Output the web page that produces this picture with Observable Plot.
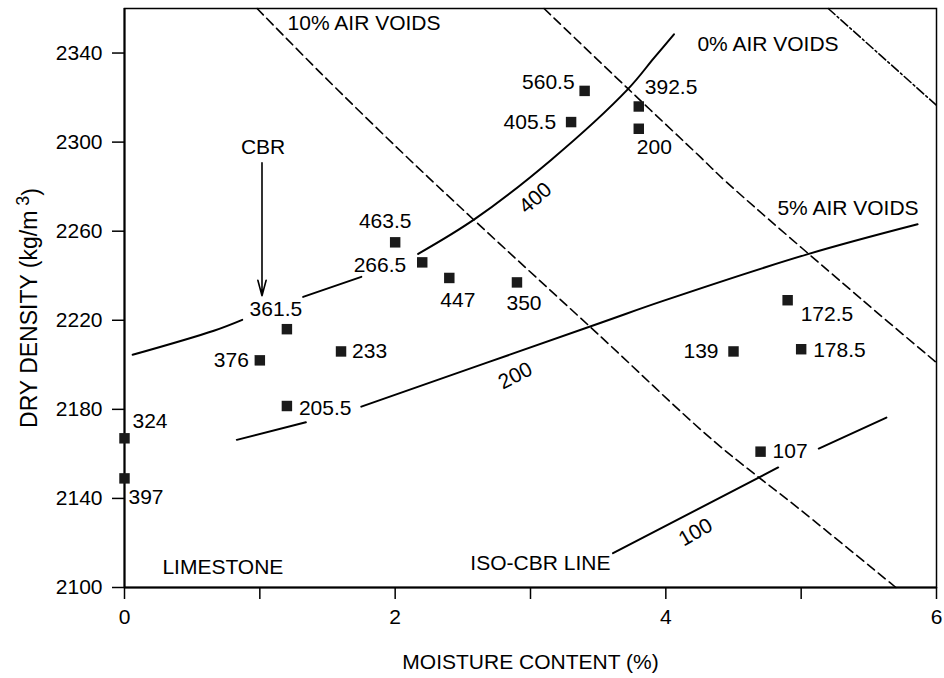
<!DOCTYPE html>
<html>
<head>
<meta charset="utf-8">
<script src="https://cdn.jsdelivr.net/npm/d3@7"></script>
<script src="https://cdn.jsdelivr.net/npm/@observablehq/plot@0.6"></script>
<style>
  body { margin: 0; background: #fff; }
  #chart { width: 944px; height: 678px; }
</style>
</head>
<body>
<div id="chart"></div>
<script>
// ---------------- data ----------------
const moisture = [3.4, 3.3, 3.8, 3.8, 2.0, 2.2, 2.4, 2.9, 1.2, 1.0, 1.6, 1.2, 0, 0, 4.9, 4.5, 5.0, 4.7];
const density  = [2323, 2309, 2316, 2306, 2255, 2246, 2239, 2237, 2216, 2202, 2206, 2181.5, 2167, 2149, 2229, 2206, 2207, 2161];
const cbrLabels = ["560.5", "405.5", "392.5", "200", "463.5", "266.5", "447", "350", "361.5", "376", "233", "205.5", "324", "397", "172.5", "139", "178.5", "107"];

const xTicks = [0, 1, 2, 3, 4, 5, 6];
const xTickLabels = ["0", "", "2", "", "4", "", "6"];
const yTicks = [2100, 2140, 2180, 2220, 2260, 2300, 2340];

// air-voids lines
const voids10Moisture = [0.98, 1.45, 2.04, 2.59, 3.52, 4.35, 5.00, 5.70];
const voids10Density  = [2360, 2331, 2296, 2264.6, 2212.6, 2166, 2134.6, 2100];
const voids5Moisture  = [3.10, 3.72, 4.26, 4.44, 5.46, 6.0];
const voids5Density   = [2360, 2324, 2293, 2282.5, 2228.7, 2201];
const voids0Moisture  = [5.20, 6.0];
const voids0Density   = [2360, 2316.5];

// iso-CBR lines (segments break where labels sit)
const cbr400Moisture = [0.06, 0.66, 0.87, 1.32, 1.75, 2.17, 2.59, 3.15, 3.72, 3.91, 4.06];
const cbr400Density  = [2204.5, 2215.3, 2220.2, 2230.5, 2239.5, 2249.8, 2265.5, 2291.9, 2323.8, 2337.6, 2348.4];
const cbr400Segment  = [1, 1, 1, 2, 2, 3, 3, 3, 3, 3, 3];
const cbr200Moisture = [0.83, 1.34, 1.75, 3.52, 3.98, 5.05, 5.86];
const cbr200Density  = [2166.3, 2174.2, 2181.2, 2218.9, 2228.7, 2249.7, 2263.1];
const cbr200Segment  = [1, 1, 2, 2, 2, 2, 2];
const cbr100Moisture = [3.61, 4.83, 5.13, 5.63];
const cbr100Density  = [2115.4, 2153.9, 2162.4, 2176.3];
const cbr100Segment  = [1, 1, 2, 2];

// annotations
const annotationText     = ["10% AIR VOIDS", "0% AIR VOIDS", "5% AIR VOIDS", "CBR", "LIMESTONE", "ISO-CBR LINE"];
const annotationMoisture = [1.77, 4.755, 5.346, 1.024, 0.727, 3.073];
const annotationDensity  = [2353.3, 2343.8, 2270.5, 2297.9, 2109.0, 2110.8];

const curveLabelText     = ["400", "200", "100"];
const curveLabelMoisture = [3.036, 2.888, 4.219];
const curveLabelDensity  = [2274.9, 2195.1, 2124.8];

const arrowMoisture = [1.016];
const arrowFrom = [2290.7];
const arrowTo = [2231.0];

// ---------------- styling (placement of point labels) ----------------
const labelPlacement = [
  {anchor: "end", dx: -10, dy: -9},     // 560.5
  {anchor: "end", dx: -15, dy: 0},      // 405.5
  {anchor: "start", dx: 6, dy: -19},    // 392.5
  {anchor: "start", dx: -2, dy: 19},    // 200
  {anchor: "middle", dx: -10, dy: -21}, // 463.5
  {anchor: "end", dx: -16, dy: 3},      // 266.5
  {anchor: "start", dx: -9, dy: 22},    // 447
  {anchor: "middle", dx: 7, dy: 21},    // 350
  {anchor: "middle", dx: -11, dy: -20}, // 361.5
  {anchor: "end", dx: -11, dy: 0},      // 376
  {anchor: "start", dx: 11, dy: 0},     // 233
  {anchor: "start", dx: 12, dy: 2},     // 205.5
  {anchor: "start", dx: 8, dy: -17},    // 324
  {anchor: "start", dx: 4, dy: 19},     // 397
  {anchor: "start", dx: 13, dy: 14},    // 172.5
  {anchor: "end", dx: -15, dy: 0},      // 139
  {anchor: "start", dx: 12, dy: 1},     // 178.5
  {anchor: "start", dx: 12, dy: 0}      // 107
];
const curveLabelAngle = [-41, -27, -30];

// ---------------- build tables ----------------
const points = moisture.map((m, i) => ({m, d: density[i], label: cbrLabels[i], i}));
const toRows = (xs, ys, segs) => xs.map((x, i) => ({x, y: ys[i], s: segs ? segs[i] : 0}));
const voids10 = toRows(voids10Moisture, voids10Density);
const voids5 = toRows(voids5Moisture, voids5Density);
const voids0 = toRows(voids0Moisture, voids0Density);
const cbr400 = toRows(cbr400Moisture, cbr400Density, cbr400Segment);
const cbr200 = toRows(cbr200Moisture, cbr200Density, cbr200Segment);
const cbr100 = toRows(cbr100Moisture, cbr100Density, cbr100Segment);
const annotations = annotationText.map((t, i) => ({t, x: annotationMoisture[i], y: annotationDensity[i]}));
const curveLabels = curveLabelText.map((t, i) => ({t, x: curveLabelMoisture[i], y: curveLabelDensity[i], r: curveLabelAngle[i]}));
const arrows = arrowMoisture.map((x, i) => ({x, y1: arrowFrom[i], y2: arrowTo[i]}));

const FS = 21;
const solid = {stroke: "black", strokeWidth: 2, curve: "catmull-rom"};

const plot = Plot.plot({
  width: 944,
  height: 678,
  marginLeft: 124,
  marginRight: 8,
  marginTop: 8,
  marginBottom: 91,
  style: {fontFamily: "'Liberation Sans', Arial, Helvetica, sans-serif", fontSize: FS + "px", color: "black", background: "white"},
  x: {domain: [0, 6]},
  y: {domain: [2100, 2360]},
  marks: [
    Plot.frame({stroke: "black", strokeWidth: 1.5}),
    Plot.ruleX([0], {stroke: "black", strokeWidth: 2}),
    Plot.ruleY([2100], {stroke: "black", strokeWidth: 2}),
    Plot.axisX({ticks: xTicks, tickFormat: d => xTickLabels[xTicks.indexOf(d)], tickSize: 12, tickPadding: 10, fontSize: FS, label: null, strokeWidth: 1.5}),
    Plot.axisY({ticks: yTicks, tickFormat: d => String(d), tickSize: 12, tickPadding: 10, fontSize: FS, label: null, strokeWidth: 1.5}),
    // air voids
    Plot.line(voids10, {x: "x", y: "y", stroke: "black", strokeWidth: 1.6, strokeDasharray: "9,5", curve: "catmull-rom"}),
    Plot.line(voids5, {x: "x", y: "y", stroke: "black", strokeWidth: 1.6, strokeDasharray: "9,5", curve: "catmull-rom"}),
    Plot.line(voids0, {x: "x", y: "y", stroke: "black", strokeWidth: 1.6, strokeDasharray: "9,3,2,3"}),
    // iso-CBR
    Plot.line(cbr400, {x: "x", y: "y", z: "s", ...solid}),
    Plot.line(cbr200, {x: "x", y: "y", z: "s", ...solid}),
    Plot.line(cbr100, {x: "x", y: "y", z: "s", ...solid}),
    // CBR arrow
    Plot.arrow(arrows, {x1: "x", x2: "x", y1: "y1", y2: "y2", stroke: "black", strokeWidth: 1.6, headLength: 15, headAngle: 30}),
    // points
    Plot.dot(points, {x: "m", y: "d", symbol: "square", r: 5.9, fill: "#1a1a1a", stroke: "none"}),
    // point labels
    ...points.map(p => Plot.text([p], {
      x: "m", y: "d", text: "label", fontSize: FS, fill: "black",
      textAnchor: labelPlacement[p.i].anchor, dx: labelPlacement[p.i].dx, dy: labelPlacement[p.i].dy
    })),
    // annotations
    Plot.text(annotations, {x: "x", y: "y", text: "t", fontSize: FS, fill: "black"}),
    Plot.text(curveLabels, {x: "x", y: "y", text: "t", rotate: "r", fontSize: FS, fill: "black"}),
    // axis titles
    Plot.text(["MOISTURE CONTENT (%)"], {frameAnchor: "bottom", textAnchor: "middle", lineAnchor: "middle", dy: 75, text: d => d, fontSize: FS, fill: "black"}),
    Plot.text(["DRY DENSITY (kg/m 3)"], {frameAnchor: "left", textAnchor: "middle", lineAnchor: "middle", dx: -95, dy: 10, rotate: -90, text: d => d, fontSize: 23, fill: "black"})
  ]
});

document.getElementById("chart").appendChild(plot);

// superscript for the unit
for (const t of plot.querySelectorAll("text")) {
  if (t.textContent === "DRY DENSITY (kg/m 3)") {
    t.innerHTML = 'DRY DENSITY (kg/m<tspan dy="-0.45em" font-size="18"> 3</tspan><tspan dy="0.45em">)</tspan>';
  }
}
</script>
</body>
</html>
